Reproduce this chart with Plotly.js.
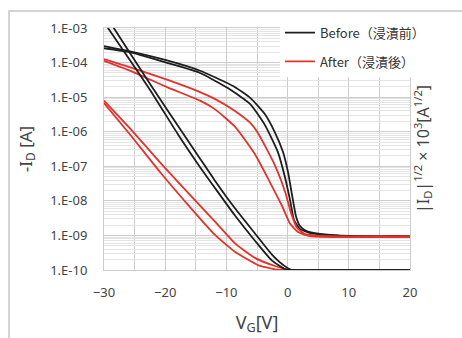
<!DOCTYPE html>
<html>
<head>
<meta charset="utf-8">
<script src="https://cdn.plot.ly/plotly-3.0.1.min.js"></script>
<style>
  html, body { margin: 0; padding: 0; background: #ffffff; }
  #frame { position: absolute; left: 8px; top: 10px; width: 470px; height: 340px;
           border-left: 2px solid #d4d4d4; border-top: 2px solid #d4d4d4; }
  #chart { position: absolute; left: 0; top: 0; width: 462px; height: 338px; }
</style>
</head>
<body>
<div id="frame"></div>
<div id="chart"></div>
<script>
// ---- Data ----
const xTickVals = [-30, -20, -10, 0, 10, 20];
const yTickVals = [1e-10, 1e-9, 1e-8, 1e-7, 1e-6, 1e-5, 1e-4, 1e-3];
const yTickText = ["1.E-10", "1.E-09", "1.E-08", "1.E-07", "1.E-06", "1.E-05", "1.E-04", "1.E-03"];

// Before (浸漬前): -I_D on log axis, two sweeps
const vBeforeLog1 = [-30, -25.75, -19.7, -14.3, -8.9, -6.1, -3.7, -2.1, -0.75, 0.07, 0.72, 1.37, 2.0, 3.0, 5.3, 8, 10.2, 12, 15.1, 17, 20];
const iBeforeLog1 = [3.0e-4, 2.1e-4, 1.15e-4, 5.8e-5, 2.1e-5, 9.5e-6, 3.2e-6, 9.8e-7, 2.6e-7, 6.8e-8, 1.5e-8, 3.6e-9, 1.9e-9, 1.35e-9, 1.1e-9, 1.0e-9, 9.2e-10, 9.4e-10, 9.0e-10, 9.5e-10, 9.6e-10];
const vBeforeLog2 = [-30, -25.75, -19.7, -14.3, -9.7, -6.1, -3.7, -1.6, -0.4, 0.4, 1.05, 2.0, 3.7, 6.9, 12, 20];
const iBeforeLog2 = [2.6e-4, 2.0e-4, 9.8e-5, 5.0e-5, 1.8e-5, 6.3e-6, 1.55e-6, 2.6e-7, 4.6e-8, 1.05e-8, 2.8e-9, 1.55e-9, 1.17e-9, 1.02e-9, 9.6e-10, 9.5e-10];

// After (浸漬後): -I_D on log axis, two sweeps
const vAfterLog1 = [-30, -25.3, -19.7, -14.3, -11.9, -8.6, -6.1, -4.8, -2.1, -0.4, 0.56, 1.54, 2.84, 6.9, 20];
const iAfterLog1 = [1.26e-4, 6.9e-5, 3.2e-5, 1.4e-5, 8.9e-6, 4.0e-6, 1.8e-6, 8.9e-7, 1.1e-7, 1.8e-8, 4.5e-9, 1.66e-9, 1.1e-9, 9.5e-10, 9.5e-10];
const vAfterLog2 = [-30, -25.3, -19.7, -14.3, -11.9, -8.6, -5.3, -2.9, -0.9, 0.4, 1.7, 3.7, 20];
const iAfterLog2 = [1.12e-4, 5.4e-5, 1.95e-5, 7.9e-6, 4.5e-6, 1.4e-6, 2.2e-7, 3.5e-8, 7.1e-9, 2.2e-9, 1.26e-9, 9.5e-10, 9.0e-10];

// Before (浸漬前): |I_D|^1/2 x 10^3 on right (linear) axis
const vBeforeSqrt1 = [-29.4, -28.4, -22.5, -17.1, -14.3, -11.9, -8.6, -5.3, -2.6, -0.4, 0.7, 5, 20];
const sBeforeSqrt1 = [20.8, 20.0, 15.4, 11.3, 9.2, 7.4, 5.1, 3.0, 1.3, 0.3, 0.0, 0.0, 0.0];
const vBeforeSqrt2 = [-30.3, -29.35, -22.5, -17.9, -14.3, -11.9, -8.6, -5.3, -2.6, -0.4, 0.4, 5, 20];
const sBeforeSqrt2 = [20.7, 20.0, 14.9, 11.2, 8.5, 6.8, 4.5, 2.4, 0.8, 0.08, 0.0, 0.0, 0.0];

// After (浸漬後): |I_D|^1/2 x 10^3 on right (linear) axis
const vAfterSqrt1 = [-30, -25.75, -20.85, -15.95, -11.86, -8.59, -5.33, -2.06, 0.39, 5, 20];
const sAfterSqrt1 = [14.0, 11.7, 8.9, 6.2, 4.0, 2.2, 1.0, 0.33, 0.0, 0.0, 0.0];
const vAfterSqrt2 = [-30, -25.75, -20.85, -15.95, -11.86, -8.59, -4.84, -2.06, 0, 5, 20];
const sAfterSqrt2 = [13.8, 11.2, 8.1, 5.2, 2.9, 1.5, 0.41, 0.06, 0.0, 0.0, 0.0];

const seriesNames = ["Before（浸漬前）", "After（浸漬後）"];

// ---- Styles ----
const BLACK = "#1e1e1e";
const RED = "#e0332c";
const LW = 1.8;
const GRID = "#cccccc";
const MINOR = "#e4e4e4";
const TXT = "#444444";

function tr(x, y, color, opts) {
  return Object.assign({
    x: x, y: y, type: "scatter", mode: "lines",
    line: { color: color, width: LW, shape: "spline", smoothing: 0.5 },
    hoverinfo: "skip", showlegend: false
  }, opts || {});
}

const data = [
  tr(vAfterSqrt1, sAfterSqrt1, RED, { yaxis: "y2" }),
  tr(vAfterSqrt2, sAfterSqrt2, RED, { yaxis: "y2" }),
  tr(vBeforeSqrt1, sBeforeSqrt1, BLACK, { yaxis: "y2" }),
  tr(vBeforeSqrt2, sBeforeSqrt2, BLACK, { yaxis: "y2" }),
  tr(vBeforeLog1, iBeforeLog1, BLACK, { name: seriesNames[0], showlegend: true, legendgroup: "b", legendrank: 1 }),
  tr(vBeforeLog2, iBeforeLog2, BLACK, { legendgroup: "b" }),
  tr(vAfterLog1, iAfterLog1, RED, { name: seriesNames[1], showlegend: true, legendgroup: "a", legendrank: 2 }),
  tr(vAfterLog2, iAfterLog2, RED, { legendgroup: "a" })
];

const layout = {
  width: 462, height: 338,
  margin: { l: 104, r: 52, t: 28, b: 68 },
  paper_bgcolor: "rgba(0,0,0,0)",
  plot_bgcolor: "#ffffff",
  font: { family: "Noto Sans, sans-serif", size: 13, color: TXT },
  showlegend: true,
  legend: {
    x: 0.575, y: 1.043, xanchor: "left", yanchor: "top",
    bgcolor: "#ffffff", borderwidth: 0,
    font: { family: "Noto Sans CJK JP, sans-serif", size: 13, color: "#333333" },
    tracegroupgap: 9, itemwidth: 30, traceorder: "grouped"
  },
  xaxis: {
    range: [-30, 20], tickmode: "array", tickvals: xTickVals,
    showgrid: true, gridcolor: GRID, gridwidth: 1,
    minor: { dtick: 5, showgrid: true, gridcolor: GRID, gridwidth: 1 },
    zeroline: false, showline: true, mirror: true, linecolor: GRID, linewidth: 1,
    ticks: "", ticklabelstandoff: 10,
    tickfont: { family: "Noto Sans, sans-serif", size: 13, color: TXT },
    title: { text: "V<sub>G</sub>[V]", font: { family: "Noto Sans, sans-serif", size: 18, color: TXT }, standoff: 16 }
  },
  yaxis: {
    type: "log", range: [-10, -3], tickmode: "array", tickvals: yTickVals, ticktext: yTickText,
    showgrid: true, gridcolor: GRID, gridwidth: 1,
    minor: { dtick: "D1", showgrid: true, gridcolor: MINOR, gridwidth: 1 },
    zeroline: false, showline: true, mirror: true, linecolor: GRID, linewidth: 1,
    ticks: "", ticklabelstandoff: 13,
    tickfont: { family: "Noto Sans, sans-serif", size: 13, color: TXT },
    title: { text: "-I<sub>D</sub> [A]", font: { family: "Noto Sans, sans-serif", size: 17, color: TXT }, standoff: 13 }
  },
  yaxis2: {
    overlaying: "y", side: "right", range: [0, 20],
    showgrid: false, zeroline: false, showticklabels: false, ticks: "", showline: false,
    title: { text: "|I<sub>D</sub>|<sup>1/2</sup> × 10<sup>3</sup>[A<sup>1/2</sup>]", font: { family: "Noto Sans, sans-serif", size: 16, color: TXT }, standoff: 7 }
  }
};

Plotly.newPlot("chart", data, layout, { displayModeBar: false, staticPlot: true });
</script>
</body>
</html>
